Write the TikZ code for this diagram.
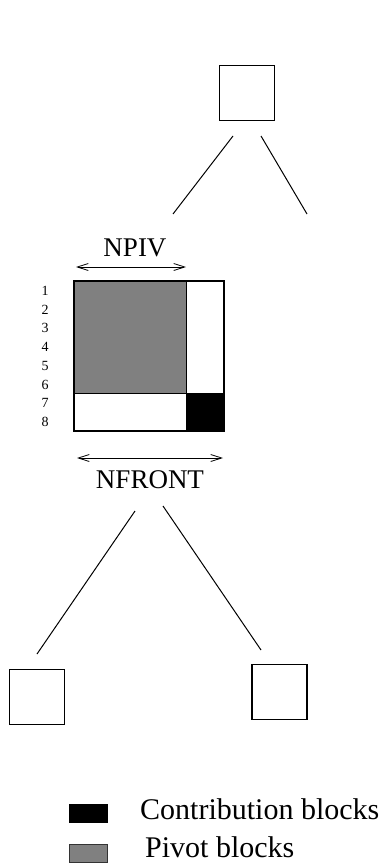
\documentclass[tikz,border=0pt]{standalone}
\usepackage{fontspec}
\setmainfont{Liberation Serif}
\usetikzlibrary{arrows.meta}
\definecolor{pivgray}{RGB}{128,128,128}
\tikzset{
  treebox/.style={draw, line width=1.2pt, minimum size=55pt, inner sep=0pt},
  treeline/.style={line width=1pt},
  dimarrow/.style={line width=0.8pt, {Straight Barb[length=11pt,width=7pt]}-{Straight Barb[length=11pt,width=7pt]}},
  bigtext/.style={font=\fontsize{27}{27}\selectfont, inner sep=0pt},
  rownum/.style={font=\fontsize{14}{14}\selectfont, inner sep=0pt},
  legtext/.style={font=\fontsize{30}{30}\selectfont, inner sep=0pt, anchor=base west},
}
\begin{document}
\begin{tikzpicture}[x=1pt,y=-1pt]
\useasboundingbox (0,0) rectangle (389,864);
% top box
\node[treebox] (top) at (247,93) {};
\coordinate (tl1) at (233,136); \coordinate (tl2) at (173,214);
\coordinate (tr1) at (261,136); \coordinate (tr2) at (307,214);
\draw[treeline] (tl1) -- (tl2);
\draw[treeline] (tr1) -- (tr2);
% NPIV
\coordinate (np1) at (76,267); \coordinate (np2) at (186,267);
\draw[dimarrow] (np1) -- (np2);
\node[bigtext, anchor=base] (npiv) at (135,256) {NPIV};
% matrix
\fill[pivgray] (74,281) rectangle (186,393);
\fill[black] (186,393) rectangle (224,431);
\draw[line width=1pt] (186,281) -- (186,431);
\draw[line width=1pt] (74,393) -- (224,393);
\draw[line width=1.2pt] (74,281) rectangle (224,431);
\node[rownum] (r1) at (45,291) {1};
\node[rownum] (r2) at (45,309.7) {2};
\node[rownum] (r3) at (45,328.4) {3};
\node[rownum] (r4) at (45,347.1) {4};
\node[rownum] (r5) at (45,365.8) {5};
\node[rownum] (r6) at (45,384.5) {6};
\node[rownum] (r7) at (45,403.2) {7};
\node[rownum] (r8) at (45,421.9) {8};
% NFRONT
\coordinate (nf1) at (77,458); \coordinate (nf2) at (223,458);
\draw[dimarrow] (nf1) -- (nf2);
\node[bigtext, anchor=base] (nfront) at (150,488) {NFRONT};
% lower lines
\coordinate (bl1) at (135,511); \coordinate (bl2) at (37,654);
\coordinate (br1) at (163,506); \coordinate (br2) at (261,650);
\draw[treeline] (bl1) -- (bl2);
\draw[treeline] (br1) -- (br2);
% bottom boxes
\node[treebox] (left) at (37,697) {};
\node[treebox] (right) at (279.5,692) {};
% legend
\node[draw=black, fill=black, minimum width=38pt, minimum height=18pt, inner sep=0pt] (lc) at (88.5,813.5) {};
\node[draw=black!80, line width=1pt, fill=pivgray, minimum width=38pt, minimum height=18pt, inner sep=0pt] (lp) at (88.5,853) {};
\node[legtext] (tc) at (140,819) {Contribution blocks};
\node[legtext] (tp) at (145,857) {Pivot blocks};
\end{tikzpicture}
\end{document}
